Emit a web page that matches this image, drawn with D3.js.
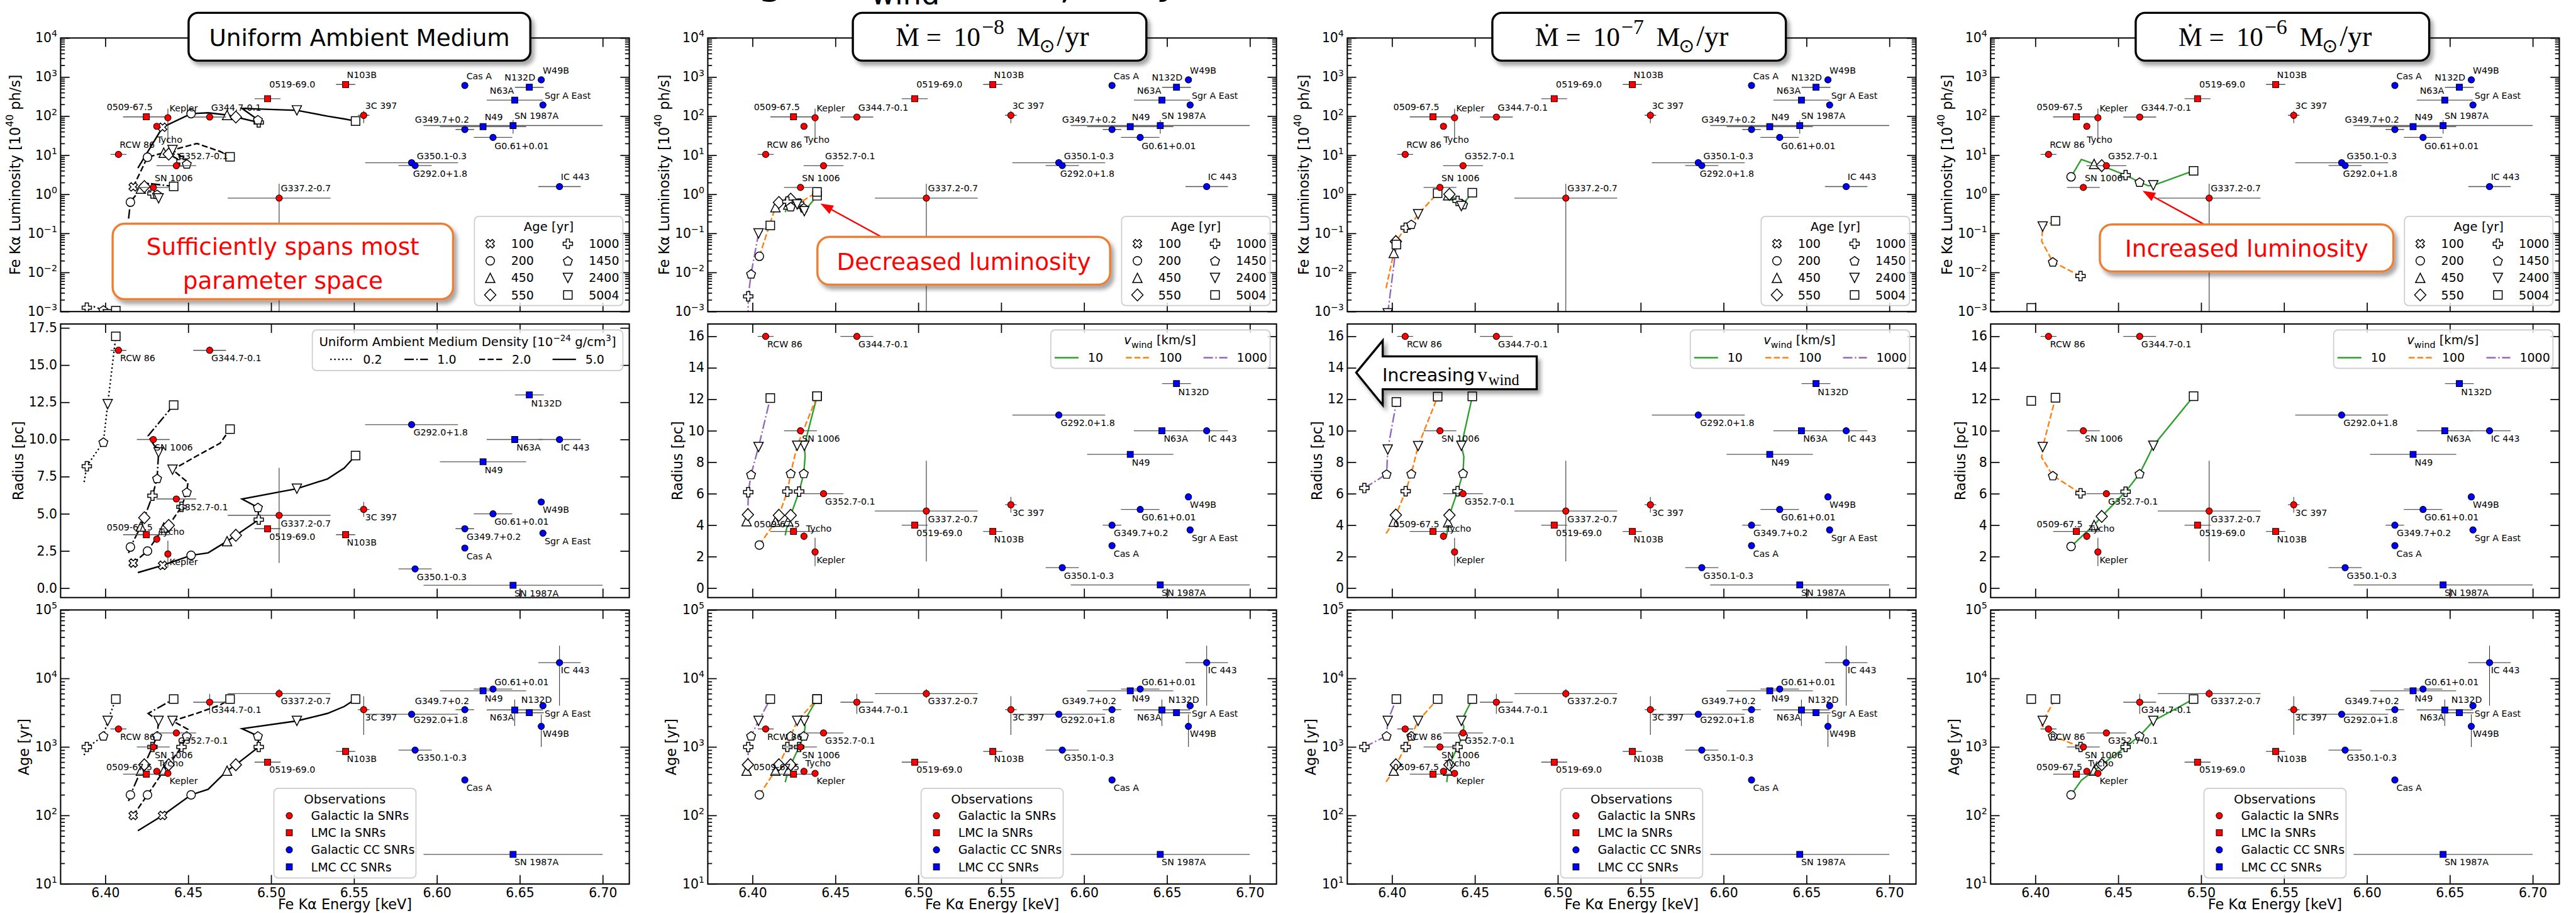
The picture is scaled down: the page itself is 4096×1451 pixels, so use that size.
<!DOCTYPE html>
<html>
<head>
<meta charset="utf-8">
<script src="https://cdn.jsdelivr.net/npm/d3@7"></script>
<style>
html,body{margin:0;padding:0;background:#fff;}
svg{display:block;}
</style>
</head>
<body>
<script>
// ======================= DATA =======================
const energyTicks = [6.40, 6.45, 6.50, 6.55, 6.60, 6.65, 6.70];
const energyTickLabels = ["6.40", "6.45", "6.50", "6.55", "6.60", "6.65", "6.70"];
const lumTicks = [1e-3, 1e-2, 1e-1, 1e0, 1e1, 1e2, 1e3, 1e4];
const lumTickExponents = ["−3", "−2", "−1", "0", "1", "2", "3", "4"];
const ageTicks = [1e1, 1e2, 1e3, 1e4, 1e5];
const ageTickExponents = ["1", "2", "3", "4", "5"];
const radiusTicksUniform = [0, 2.5, 5, 7.5, 10, 12.5, 15, 17.5];
const radiusTickLabelsUniform = ["0.0", "2.5", "5.0", "7.5", "10.0", "12.5", "15.0", "17.5"];
const radiusTicksWind = [0, 2, 4, 6, 8, 10, 12, 14, 16];
const radiusTickLabelsWind = ["0", "2", "4", "6", "8", "10", "12", "14", "16"];

// Observed SNRs
const snrNames = ["0509-67.5", "Kepler", "Tycho", "RCW 86", "G344.7-0.1", "G352.7-0.1", "SN 1006",
  "G337.2-0.7", "0519-69.0", "N103B", "3C 397", "Cas A", "N132D", "W49B", "N63A", "Sgr A East",
  "G349.7+0.2", "N49", "SN 1987A", "G0.61+0.01", "G292.0+1.8", "G350.1-0.3", "IC 443"];
const snrClass = ["LMC Ia", "Galactic Ia", "Galactic Ia", "Galactic Ia", "Galactic Ia", "Galactic Ia", "Galactic Ia",
  "Galactic Ia", "LMC Ia", "LMC Ia", "Galactic Ia", "Galactic CC", "LMC CC", "Galactic CC", "LMC CC", "Galactic CC",
  "Galactic CC", "LMC CC", "LMC CC", "Galactic CC", "Galactic CC", "Galactic CC", "Galactic CC"];
const snrEnergy = [6.4247, 6.4377, 6.4310, 6.4079, 6.4629, 6.4428, 6.4289, 6.5048, 6.4978, 6.5449, 6.5558,
  6.6168, 6.6557, 6.6629, 6.6469, 6.6639, 6.6168, 6.6278, 6.6459, 6.6338, 6.5847, 6.5868, 6.6739];
const snrEnergyErr = [0.014, 0, 0, 0.0048, 0.0099, 0.012, 0.0099, 0.031, 0.0078, 0.0058, 0.0035,
  0, 0.0087, 0, 0.0169, 0.002, 0.0056, 0.026, 0.054, 0.0116, 0.028, 0.01, 0.0128];
const snrLum = [96, 91, 55, 10.5, 95, 5.4, 1.5, 0.8, 280, 646, 105, 611, 548, 850, 257, 193, 45.6, 54, 57.5, 28.6, 6.45, 5.45, 1.58];
const snrLumErrLo = [0, 70, 0, 0, 0, 0, 0.2, 0.8, 0, 0, 39, 0, 0, 0, 0, 0, 0, 8, 22, 0, 1.2, 0, 0];
const snrLumErrHi = [0, 64, 0, 0, 0, 0, 0.2, 1.06, 0, 0, 33, 0, 0, 0, 0, 0, 0, 8, 22, 0, 1.2, 0, 0];
const snrRadius = [3.6, 2.3, 3.3, 16.0, 16.0, 6.0, 10.0, 4.9, 4.0, 3.6, 5.3, 2.7, 13.0, 5.8, 10.0, 3.7, 4.0, 8.5, 0.2, 5.0, 11.0, 1.3, 10.0];
const snrRadiusErr = [0, 0.9, 0.25, 0, 0, 0, 0, 3.2, 0, 0, 0.5, 0, 0, 0, 0, 0, 0, 0, 0, 0, 0, 0, 0];
const snrAge = [400, 411, 440, 1830, 4500, 1600, 1000, 6000, 600, 860, 3500, 330, 3160, 2000, 3470, 4000, 3500, 6600, 27, 7000, 3000, 900, 17000];
const snrAgeErrLo = [0, 0, 0, 0, 1450, 0, 0, 800, 0, 80, 2000, 0, 0, 1000, 1450, 0, 0, 0, 0, 0, 0, 0, 13000];
const snrAgeErrHi = [0, 0, 0, 0, 1450, 0, 0, 1000, 0, 80, 2000, 0, 0, 1000, 1450, 0, 0, 0, 0, 0, 0, 0, 13000];
const obsLegendClasses = ["Galactic Ia", "LMC Ia", "Galactic CC", "LMC CC"];
const obsLegendLabels = ["Galactic Ia SNRs", "LMC Ia SNRs", "Galactic CC SNRs", "LMC CC SNRs"];

// Model ages that carry a marker
const ageMarkerAges = [100, 200, 450, 550, 1000, 1450, 2400, 5004];

// Model tracks: [energy keV, luminosity 1e40 ph/s, radius pc, age yr, has marker]
const uniformDensityLabels = ["0.2", "1.0", "2.0", "5.0"];
const trackUniform0p2 = [
  [6.3872, 0.0006, 7.14, 760, 0], [6.3888, 0.00126, 8.2, 1000, 1], [6.3930, 0.00134, 8.9, 1150, 0],
  [6.3988, 0.0011, 9.82, 1450, 1], [6.4014, 0.00085, 12.38, 2400, 1], [6.4063, 0.00105, 16.94, 5004, 1]];
const trackUniform1p0 = [
  [6.4140, 0.24, 2.37, 162, 0], [6.4151, 0.63, 2.77, 200, 1], [6.4214, 1.4, 4.15, 450, 1],
  [6.4235, 1.58, 4.74, 550, 1], [6.4284, 1.05, 6.22, 1000, 1], [6.4312, 1.0, 7.38, 1450, 1],
  [6.4321, 0.79, 9.13, 2400, 1], [6.4258, 1.9, 10.25, 3080, 0], [6.4412, 1.6, 12.32, 5004, 1]];
const trackUniform2p0 = [
  [6.4168, 1.55, 1.69, 100, 1], [6.4254, 8.9, 2.5, 200, 1], [6.4352, 11.6, 4.08, 450, 1],
  [6.4382, 10.7, 4.22, 550, 1], [6.4459, 7.0, 5.47, 1000, 1], [6.4491, 6.0, 6.46, 1450, 1],
  [6.4498, 7.0, 7.11, 1808, 0], [6.4405, 13.6, 7.97, 2400, 1], [6.4552, 20.0, 8.9, 3100, 0],
  [6.4692, 12.5, 9.75, 4100, 0], [6.4752, 9.1, 10.7, 5004, 1]];
const trackUniform5p0 = [
  [6.4196, 4.7, 1.05, 60, 0], [6.4345, 52, 1.54, 100, 1], [6.4517, 116, 2.21, 200, 1],
  [6.4620, 122, 2.38, 241, 0], [6.4734, 107, 3.16, 450, 1], [6.4787, 95, 3.56, 550, 1],
  [6.4925, 69, 4.61, 1000, 1], [6.4920, 81, 5.43, 1450, 1], [6.4824, 158, 6.0, 1845, 0],
  [6.5155, 141, 6.69, 2400, 1], [6.5340, 100, 7.35, 3090, 0], [6.5441, 85, 8.08, 3900, 0],
  [6.5509, 75, 8.92, 5004, 1]];

const windSpeedLabels = ["10", "100", "1000"];
const mdotExponents = ["−8", "−7", "−6"];
// Mdot = 1e-8
const trackMdot8v10 = [
  [6.4197, 0.35, 3.36, 306, 0], [6.4215, 0.55, 4.26, 450, 1], [6.4230, 0.75, 4.63, 550, 1],
  [6.4281, 0.58, 6.14, 1000, 1], [6.4309, 0.45, 7.29, 1450, 1], [6.4317, 0.40, 8.4, 1950, 0],
  [6.4312, 0.37, 9.05, 2400, 1], [6.4389, 0.92, 12.2, 5004, 1]];
const trackMdot8v100 = [
  [6.4041, 0.026, 2.74, 200, 1], [6.4138, 0.47, 4.23, 450, 1], [6.4159, 0.62, 4.63, 550, 1],
  [6.4210, 0.65, 6.14, 1000, 1], [6.4230, 0.48, 7.29, 1450, 1], [6.4269, 0.55, 9.05, 2400, 1],
  [6.4389, 1.15, 12.2, 5004, 1]];
const trackMdot8v1000 = [
  [6.3964, 0.0001, 4.26, 450, 1], [6.3972, 0.0003, 4.67, 550, 1], [6.3974, 0.00245, 6.1, 1000, 1],
  [6.3991, 0.0092, 7.22, 1450, 1], [6.4036, 0.1, 8.97, 2400, 1], [6.4107, 0.16, 12.08, 5004, 1]];
// Mdot = 1e-7
const trackMdot7v10 = [
  [6.4330, 0.9, 3.35, 306, 0], [6.4338, 0.95, 4.19, 450, 1], [6.4346, 1.0, 4.64, 550, 1],
  [6.4395, 0.68, 6.16, 1000, 1], [6.4428, 0.55, 7.3, 1450, 1], [6.4433, 0.52, 8.36, 2000, 0],
  [6.4418, 0.5, 9.05, 2400, 1], [6.4484, 1.1, 12.19, 5004, 1]];
const trackMdot7v100 = [
  [6.3964, 0.004, 3.47, 310, 0], [6.4010, 0.0316, 4.23, 450, 1], [6.4023, 0.062, 4.65, 550, 1],
  [6.4082, 0.14, 6.16, 1000, 1], [6.4116, 0.17, 7.27, 1450, 1], [6.4157, 0.31, 9.03, 2400, 1],
  [6.4275, 1.07, 12.17, 5004, 1]];
const trackMdot7v1000 = [
  [6.3833, 0.0001, 6.36, 1000, 1], [6.3967, 0.0003, 7.25, 1450, 1], [6.3974, 0.0009, 8.81, 2400, 1],
  [6.4026, 0.052, 11.83, 5004, 1]];
// Mdot = 1e-6
const trackMdot6v10 = [
  [6.4215, 2.8, 2.65, 200, 1], [6.4277, 7.8, 3.26, 327, 0], [6.4354, 6.0, 4.01, 450, 1],
  [6.4400, 5.4, 4.56, 550, 1], [6.4544, 3.1, 6.13, 1000, 1], [6.4628, 2.05, 7.27, 1450, 1],
  [6.4682, 1.65, 8.4, 2000, 0], [6.4711, 1.7, 9.05, 2400, 1], [6.4954, 4.0, 12.2, 5004, 1]];
const trackMdot6v100 = [
  [6.4272, 0.0081, 6.03, 1000, 1], [6.4105, 0.0187, 7.15, 1450, 1], [6.4038, 0.063, 8.3, 2060, 0],
  [6.4044, 0.15, 8.97, 2400, 1], [6.4121, 0.21, 12.1, 5004, 1]];
const trackMdot6v1000 = [
  [6.3975, 0.00124, 11.9, 5004, 1]];

// ======================= LAYOUT / STYLE =======================
const FW = 6038, FH = 2139;
const FONT = "DejaVu Sans, Verdana, sans-serif";
const SERIF = "Liberation Serif, DejaVu Serif, serif";
const AX_W = 1333;
const COL_LEFT = [142, 1659, 3158, 4666];
const ROW_TOP = [89, 759, 1429], ROW_BOT = [730, 1400, 2071];
const E_DOMAIN = [6.373, 6.716];
const ageMarkerShapes = ["X", "o", "^", "D", "P", "p", "v", "s"];
const uniformStyles = [
  {color: "#000", dash: "3.5,5.8"}, {color: "#000", dash: "22,5.6,3.5,5.6"},
  {color: "#000", dash: "14,6"}, {color: "#000", dash: null}];
const windStyles = [
  {color: "#2ca02c", dash: null}, {color: "#ff7f0e", dash: "14,6"}, {color: "#9467bd", dash: "22,5.6,3.5,5.6"}];
const classStyle = {
  "Galactic Ia": {fill: "#ff0000", shape: "o"}, "LMC Ia": {fill: "#ff0000", shape: "s"},
  "Galactic CC": {fill: "#0000ff", shape: "o"}, "LMC CC": {fill: "#0000ff", shape: "s"}};
// label offsets (px) per panel row: [dx, dy] of label centre/baseline from the point
const labelOffsets = [
  [[-39,-16],[37,-15],[30,38],[44,-16],[62,-15],[62.5,-15.5],[48,-15],[62.5,-16],[58,-26],[38,-15.5],[41,-15.5],
   [33.5,-14.5],[-22,-15.5],[34.5,-15],[-30,-15],[58,-15],[-53.5,-16],[25,-15],[55,-15],[67,28],[67,33],[62.5,-15.5],[37,-15]],
  [[-39,-10],[37,26],[35,-10],[45,26],[62.5,26],[62.5,26],[48,26],[62.5,26],[58,26],[38,26],[41,26],
   [33.5,26],[40,26.6],[34.5,26],[32.6,26],[58,26],[68,26],[25,26],[55,26],[67,26],[68,26],[62.5,26],[37,26]],
  [[-40,-9],[37,25],[33,-12],[45,25],[62.5,25],[62.5,25.7],[48,26],[62.5,25],[58,25],[38,25],[41,25],
   [33.5,25],[17,-23],[34.5,25],[-30,25],[58,26],[-53.5,-13],[25,25],[55,25],[67,-9],[68,21],[62.5,25],[37,25]]];

const svg = d3.select("body").append("svg")
  .attr("width", 4096).attr("height", 1451)
  .attr("viewBox", `0 0 ${FW} ${FH}`)
  .attr("font-family", FONT);
svg.append("rect").attr("width", FW).attr("height", FH).attr("fill", "#fff");
const defs = svg.append("defs");
const shadow = defs.append("filter").attr("id", "shadow").attr("x", "-10%").attr("y", "-20%").attr("width", "130%").attr("height", "160%");
shadow.append("feDropShadow").attr("dx", 7).attr("dy", 9).attr("stdDeviation", 5).attr("flood-color", "#000").attr("flood-opacity", 0.35);

function shapePath(t) {
  switch (t) {
    case "o": { const h = 10; return `M${h},0A${h},${h} 0 1,1 ${-h},0A${h},${h} 0 1,1 ${h},0Z`; }
    case "s": { const h = 10; return `M${-h},${-h}H${h}V${h}H${-h}Z`; }
    case "^": { const h = 11; return `M0,${-h}L${h},${h}L${-h},${h}Z`; }
    case "v": { const h = 11; return `M0,${h}L${h},${-h}L${-h},${-h}Z`; }
    case "D": { const d = 14; return `M0,${-d}L${d * 0.95},0L0,${d}L${-d * 0.95},0Z`; }
    case "p": {
      const r = 11; const pts = d3.range(5).map(i => { const a = -Math.PI / 2 + i * 2 * Math.PI / 5; return [r * Math.cos(a), r * Math.sin(a) + 1]; });
      return "M" + pts.map(p => p.join(",")).join("L") + "Z";
    }
    case "P":
    case "X": {
      const a = 11, b = 3.8;
      let pts = [[-b,-a],[b,-a],[b,-b],[a,-b],[a,b],[b,b],[b,a],[-b,a],[-b,b],[-a,b],[-a,-b],[-b,-b]];
      if (t === "X") { const c = Math.SQRT1_2; pts = pts.map(([x, y]) => [(x - y) * c * 0.95, (x + y) * c * 0.95]); }
      return "M" + pts.map(p => p.join(",")).join("L") + "Z";
    }
  }
}
function obsPath(shape) {
  if (shape === "o") { const h = 7.5; return `M${h},0A${h},${h} 0 1,1 ${-h},0A${h},${h} 0 1,1 ${h},0Z`; }
  const h = 7.2; return `M${-h},${-h}H${h}V${h}H${-h}Z`;
}

function yScaleFor(c, r) {
  const top = ROW_TOP[r], bot = ROW_BOT[r];
  if (r === 0) return d3.scaleLog().domain([1e-3, 1e4]).range([bot, top]);
  if (r === 1) return d3.scaleLinear().domain(c === 0 ? [-0.63, 17.77] : [-0.6, 16.79]).range([bot, top]);
  return d3.scaleLog().domain([10, 1e5]).range([bot, top]);
}
function minorLogTicks(lo, hi) {
  const out = [];
  for (let e = Math.round(Math.log10(lo)); e < Math.round(Math.log10(hi)); e++)
    for (let m = 2; m <= 9; m++) out.push(m * Math.pow(10, e));
  return out;
}
function styleAxis(g) {
  g.select(".domain").remove();
  g.selectAll(".tick line").attr("stroke", "#000").attr("stroke-width", 2.5);
  g.selectAll(".tick text").attr("fill", "#000").attr("font-size", 30).attr("font-family", FONT);
  g.attr("font-family", FONT);
}

function valueOf(r) {
  if (r === 0) return {v: snrLum, lo: snrLumErrLo, hi: snrLumErrHi};
  if (r === 1) return {v: snrRadius, lo: snrRadiusErr, hi: snrRadiusErr};
  return {v: snrAge, lo: snrAgeErrLo, hi: snrAgeErrHi};
}

const tracksByCol = [
  [trackUniform0p2, trackUniform1p0, trackUniform2p0, trackUniform5p0],
  [trackMdot8v10, trackMdot8v100, trackMdot8v1000],
  [trackMdot7v10, trackMdot7v100, trackMdot7v1000],
  [trackMdot6v10, trackMdot6v100, trackMdot6v1000]];

for (let c = 0; c < 4; c++) {
  const L = COL_LEFT[c], R = L + AX_W;
  const x = d3.scaleLinear().domain(E_DOMAIN).range([L, R]);
  for (let r = 0; r < 3; r++) {
    const top = ROW_TOP[r], bot = ROW_BOT[r];
    const y = yScaleFor(c, r);
    const isLog = r !== 1;
    const clipId = `clip-${c}-${r}`;
    defs.append("clipPath").attr("id", clipId).append("rect")
      .attr("x", L).attr("y", top).attr("width", AX_W).attr("height", bot - top);

    // ---- axes ----
    const gb = svg.append("g").attr("transform", `translate(0,${bot})`)
      .call(d3.axisBottom(x).tickValues(energyTicks).tickSize(-21).tickSizeOuter(0).tickPadding(10)
        .tickFormat((d, i) => r === 2 ? energyTickLabels[i] : ""));
    styleAxis(gb);
    const gt = svg.append("g").attr("transform", `translate(0,${top})`)
      .call(d3.axisTop(x).tickValues(energyTicks).tickSize(-21).tickSizeOuter(0).tickFormat(""));
    styleAxis(gt);
    let majors, labels;
    if (r === 0) { majors = lumTicks; labels = lumTickExponents; }
    else if (r === 2) { majors = ageTicks; labels = ageTickExponents; }
    else if (c === 0) { majors = radiusTicksUniform; labels = radiusTickLabelsUniform; }
    else { majors = radiusTicksWind; labels = radiusTickLabelsWind; }
    const gl = svg.append("g").attr("transform", `translate(${L},0)`)
      .call(d3.axisLeft(y).tickValues(majors).tickSize(-21).tickSizeOuter(0).tickPadding(8)
        .tickFormat((d, i) => isLog ? "" : labels[i]));
    styleAxis(gl);
    if (isLog) {
      gl.selectAll(".tick text").each(function (d, i) {
        const t = d3.select(this);
        t.append("tspan").text("10");
        t.append("tspan").attr("dy", -13).attr("font-size", 21).text(labels[i]);
      });
    }
    const gr = svg.append("g").attr("transform", `translate(${R},0)`)
      .call(d3.axisRight(y).tickValues(majors).tickSize(-21).tickSizeOuter(0).tickFormat(""));
    styleAxis(gr);
    if (isLog) {
      const mins = minorLogTicks(y.domain()[0], y.domain()[1]);
      const gml = svg.append("g").attr("transform", `translate(${L},0)`)
        .call(d3.axisLeft(y).tickValues(mins).tickSize(-10).tickSizeOuter(0).tickFormat(""));
      styleAxis(gml);
      const gmr = svg.append("g").attr("transform", `translate(${R},0)`)
        .call(d3.axisRight(y).tickValues(mins).tickSize(-10).tickSizeOuter(0).tickFormat(""));
      styleAxis(gmr);
    }

    // ---- model tracks ----
    const gm = svg.append("g").attr("clip-path", `url(#${clipId})`);
    const tracks = tracksByCol[c];
    const styles = c === 0 ? uniformStyles : windStyles;
    const vi = r + 1;
    tracks.forEach((tr, k) => {
      if (tr.length > 1) {
        const line = d3.line().x(d => x(d[0])).y(d => y(d[vi]));
        gm.append("path").attr("d", line(tr)).attr("fill", "none")
          .attr("stroke", styles[k].color).attr("stroke-width", 3.5)
          .attr("stroke-dasharray", styles[k].dash);
      }
    });
    tracks.forEach(tr => tr.filter(d => d[4]).forEach(d => {
      const shape = ageMarkerShapes[ageMarkerAges.indexOf(d[3])];
      gm.append("path").attr("d", shapePath(shape))
        .attr("transform", `translate(${x(d[0])},${y(d[vi])})`)
        .attr("fill", "#fff").attr("stroke", "#000").attr("stroke-width", 2.2);
    }));

    // ---- observations ----
    const vals = valueOf(r);
    const go = svg.append("g").attr("clip-path", `url(#${clipId})`);
    const floorV = isLog ? y.domain()[0] * 1e-3 : -100;
    snrNames.forEach((n, i) => {
      const E = snrEnergy[i], v = vals.v[i];
      const px = x(E), py = y(v);
      if (snrEnergyErr[i] > 0)
        go.append("line").attr("x1", x(E - snrEnergyErr[i])).attr("x2", x(E + snrEnergyErr[i]))
          .attr("y1", py).attr("y2", py).attr("stroke", "#555").attr("stroke-width", 2);
      if (vals.lo[i] > 0 || vals.hi[i] > 0)
        go.append("line").attr("x1", px).attr("x2", px)
          .attr("y1", y(Math.max(v - vals.lo[i], floorV))).attr("y2", y(v + vals.hi[i]))
          .attr("stroke", "#333").attr("stroke-width", 1.6);
    });
    snrNames.forEach((n, i) => {
      const st = classStyle[snrClass[i]];
      go.append("path").attr("d", obsPath(st.shape))
        .attr("transform", `translate(${x(snrEnergy[i])},${y(vals.v[i])})`)
        .attr("fill", st.fill).attr("stroke", "#000").attr("stroke-width", 1.5);
    });
    snrNames.forEach((n, i) => {
      const off = labelOffsets[r][i];
      svg.append("text").attr("x", x(snrEnergy[i]) + off[0]).attr("y", y(vals.v[i]) + off[1])
        .attr("text-anchor", "middle").attr("font-size", 21).attr("fill", "#000").text(n);
    });

    // ---- frame ----
    svg.append("rect").attr("x", L).attr("y", top).attr("width", AX_W).attr("height", bot - top)
      .attr("fill", "none").attr("stroke", "#000").attr("stroke-width", 3);
  }

  // ---- y labels ----
  const ylab = (cx, cy, parts) => {
    const t = svg.append("text").attr("transform", `translate(${cx},${cy}) rotate(-90)`)
      .attr("text-anchor", "middle").attr("dominant-baseline", "central").attr("font-size", 33);
    parts.forEach(p => {
      const ts = t.append("tspan").text(p.t);
      if (p.sup) ts.attr("dy", -13).attr("font-size", 23);
      if (p.back) ts.attr("dy", 13);
    });
  };
  const lumX = c === 0 ? L - 106 : L - 102;
  const radX = c === 0 ? L - 99 : L - 71;
  const ageX = L - 86;
  ylab(lumX, (ROW_TOP[0] + ROW_BOT[0]) / 2, [{t: "Fe Kα Luminosity [10"}, {t: "40", sup: true}, {t: " ph/s]", back: true}]);
  ylab(radX, (ROW_TOP[1] + ROW_BOT[1]) / 2, [{t: "Radius [pc]"}]);
  ylab(ageX, (ROW_TOP[2] + ROW_BOT[2]) / 2, [{t: "Age [yr]"}]);
  // x label at the bottom edge
  svg.append("text").attr("x", L + AX_W / 2).attr("y", 2130).attr("text-anchor", "middle")
    .attr("font-size", 33).text("Fe Kα Energy [keV]");

  // ---- Age legend (top row) ----
  {
    const lx = R - 363, ty = 507;
    const g = svg.append("g");
    g.append("rect").attr("x", lx).attr("y", ty).attr("width", 348).attr("height", 209).attr("rx", 10)
      .attr("fill", "#fff").attr("fill-opacity", 0.8).attr("stroke", "#cccccc").attr("stroke-width", 2.5);
    g.append("text").attr("x", lx + 174).attr("y", 541).attr("text-anchor", "middle").attr("font-size", 29).text("Age [yr]");
    ageMarkerAges.forEach((a, i) => {
      const col = Math.floor(i / 4), row = i % 4;
      const cy = 571 + row * 40;
      const mx = lx + (col ? 219 : 37);
      g.append("path").attr("d", shapePath(ageMarkerShapes[i])).attr("transform", `translate(${mx},${cy})`)
        .attr("fill", "#fff").attr("stroke", "#000").attr("stroke-width", 2.2);
      g.append("text").attr("x", mx + 49).attr("y", cy + 10).attr("font-size", 28).text(a);
    });
  }
  // ---- Observations legend (bottom row) ----
  {
    const lx = L + 500, ty = 1847;
    const g = svg.append("g");
    g.append("rect").attr("x", lx).attr("y", ty).attr("width", 333).attr("height", 210).attr("rx", 10)
      .attr("fill", "#fff").attr("fill-opacity", 0.8).attr("stroke", "#cccccc").attr("stroke-width", 2.5);
    g.append("text").attr("x", lx + 166).attr("y", 1883).attr("text-anchor", "middle").attr("font-size", 29).text("Observations");
    obsLegendClasses.forEach((cl, i) => {
      const cy = 1911 + i * 40;
      const st = classStyle[cl];
      g.append("path").attr("d", obsPath(st.shape)).attr("transform", `translate(${lx + 36},${cy})`)
        .attr("fill", st.fill).attr("stroke", "#000").attr("stroke-width", 1.5);
      g.append("text").attr("x", lx + 87).attr("y", cy + 10).attr("font-size", 28).text(obsLegendLabels[i]);
    });
  }
  // ---- middle-row legends ----
  if (c === 0) {
    const lx = 732, ty = 773;
    const g = svg.append("g");
    g.append("rect").attr("x", lx).attr("y", ty).attr("width", R - 15 - lx).attr("height", 95).attr("rx", 10)
      .attr("fill", "#fff").attr("fill-opacity", 0.8).attr("stroke", "#cccccc").attr("stroke-width", 2.5);
    const t = g.append("text").attr("x", (lx + R - 15) / 2).attr("y", 811).attr("text-anchor", "middle").attr("font-size", 29);
    t.append("tspan").text("Uniform Ambient Medium Density [10");
    t.append("tspan").attr("dy", -12).attr("font-size", 20).text("−24");
    t.append("tspan").attr("dy", 12).text(" g/cm");
    t.append("tspan").attr("dy", -12).attr("font-size", 20).text("3");
    t.append("tspan").attr("dy", 12).text("]");
    const lineX = [42, 216, 391, 563];
    uniformDensityLabels.forEach((lab, k) => {
      g.append("line").attr("x1", lx + lineX[k]).attr("x2", lx + lineX[k] + 55).attr("y1", 842).attr("y2", 842)
        .attr("stroke", "#000").attr("stroke-width", 3.5).attr("stroke-dasharray", uniformStyles[k].dash);
      g.append("text").attr("x", lx + lineX[k] + 77).attr("y", 852).attr("font-size", 28).text(lab);
    });
  } else {
    const lx = R - 529, ty = 773;
    const g = svg.append("g");
    g.append("rect").attr("x", lx).attr("y", ty).attr("width", 514).attr("height", 90).attr("rx", 10)
      .attr("fill", "#fff").attr("fill-opacity", 0.8).attr("stroke", "#cccccc").attr("stroke-width", 2.5);
    const t = g.append("text").attr("x", R - 273).attr("y", 807).attr("text-anchor", "middle").attr("font-size", 29);
    t.append("tspan").attr("font-style", "italic").text("v");
    t.append("tspan").attr("dy", 8).attr("font-size", 21).text("wind");
    t.append("tspan").attr("dy", -8).text(" [km/s]");
    const lineX = [9, 176, 358];
    windSpeedLabels.forEach((lab, k) => {
      g.append("line").attr("x1", lx + lineX[k]).attr("x2", lx + lineX[k] + 56).attr("y1", 838).attr("y2", 838)
        .attr("stroke", windStyles[k].color).attr("stroke-width", 3.5).attr("stroke-dasharray", windStyles[k].dash);
      g.append("text").attr("x", lx + lineX[k] + 78).attr("y", 848).attr("font-size", 28).text(lab);
    });
  }
}

// ======================= TITLES & ANNOTATIONS =======================
function box(xx, yy, w, h, rx, stroke, sw) {
  return svg.append("rect").attr("x", xx).attr("y", yy).attr("width", w).attr("height", h).attr("rx", rx)
    .attr("fill", "#fff").attr("stroke", stroke).attr("stroke-width", sw).attr("filter", "url(#shadow)");
}
// Column 1 title
box(442, 30, 801, 112, 22, "#000", 5);
svg.append("text").attr("x", 842.5).attr("y", 107).attr("text-anchor", "middle").attr("font-size", 55).text("Uniform Ambient Medium");
// Mdot titles
mdotExponents.forEach((ex, k) => {
  const bx = COL_LEFT[k + 1] + 340;
  box(bx, 30, 688, 112, 22, "#000", 5);
  const t = svg.append("text").attr("font-family", SERIF).attr("font-size", 63).attr("fill", "#000");
  t.append("tspan").attr("x", bx + 100).attr("y", 108).text("\u1E40");
  t.append("tspan").attr("x", bx + 172).attr("y", 108).text("=");
  t.append("tspan").attr("x", bx + 236).attr("y", 108).text("10");
  t.append("tspan").attr("x", bx + 302).attr("y", 80).attr("font-size", 50).text(ex);
  t.append("tspan").attr("x", bx + 384).attr("y", 108).text("M");
  t.append("tspan").attr("x", bx + 437).attr("y", 122).attr("font-size", 44).attr("font-family", FONT).text("⊙");
  t.append("tspan").attr("x", bx + 478).attr("y", 108).attr("font-size", 68).text("/yr");
});

// Orange annotation boxes
box(264, 524, 798, 177, 28, "#ed7d31", 5);
svg.append("text").attr("x", 663).attr("y", 597).attr("text-anchor", "middle").attr("font-size", 55).attr("fill", "#ff0000").text("Sufficiently spans most");
svg.append("text").attr("x", 663).attr("y", 677).attr("text-anchor", "middle").attr("font-size", 55).attr("fill", "#ff0000").text("parameter space");

function redArrow(x1, y1, x2, y2) {
  const ang = Math.atan2(y2 - y1, x2 - x1), len = 30, hw = 11;
  const bx = x2 - len * Math.cos(ang), by = y2 - len * Math.sin(ang);
  svg.append("line").attr("x1", x1).attr("y1", y1).attr("x2", bx).attr("y2", by).attr("stroke", "#ff0000").attr("stroke-width", 3.5);
  svg.append("path").attr("d", `M${x2},${y2}L${bx + hw * Math.sin(ang)},${by - hw * Math.cos(ang)}L${bx - hw * Math.sin(ang)},${by + hw * Math.cos(ang)}Z`)
    .attr("fill", "#ff0000");
}
redArrow(2064, 554, 1923, 477);
box(1916, 555, 686, 112, 28, "#ed7d31", 5);
svg.append("text").attr("x", 2259).attr("y", 632).attr("text-anchor", "middle").attr("font-size", 55).attr("fill", "#ff0000").text("Decreased luminosity");

redArrow(5165, 525, 5022, 447);
box(4922, 526, 688, 110, 28, "#ed7d31", 5);
svg.append("text").attr("x", 5266).attr("y", 602).attr("text-anchor", "middle").attr("font-size", 55).attr("fill", "#ff0000").text("Increased luminosity");

// Block arrow: Increasing v_wind
svg.append("path").attr("d", "M3179,873L3241,798L3241,835L3602,835L3602,912L3241,912L3241,949Z")
  .attr("fill", "#fff").attr("stroke", "#000").attr("stroke-width", 5).attr("stroke-linejoin", "miter").attr("filter", "url(#shadow)");
{
  const t = svg.append("text").attr("y", 894).attr("font-size", 42);
  t.append("tspan").attr("x", 3240).text("Increasing");
  t.append("tspan").attr("x", 3463).attr("font-family", SERIF).attr("font-size", 46).text("v");
  t.append("tspan").attr("x", 3489).attr("y", 902).attr("font-family", SERIF).attr("font-size", 36).text("wind");
}

// Suptitle (mostly above the visible canvas, as in the original)
svg.append("text").attr("x", 1836).attr("y", -15).attr("text-anchor", "end").attr("font-size", 95).text("Effect of Increasing");
svg.append("text").attr("x", 1990).attr("y", -15).attr("font-size", 95).attr("font-style", "italic").text("v");
svg.append("text").attr("x", 2042).attr("y", 10).attr("font-size", 68).text("wind");
svg.append("text").attr("x", 2483).attr("y", -5).attr("font-size", 95).text(",");
svg.append("text").attr("x", 2650).attr("y", -15).attr("font-size", 95).text("by \u1E40");
</script>
</body>
</html>
